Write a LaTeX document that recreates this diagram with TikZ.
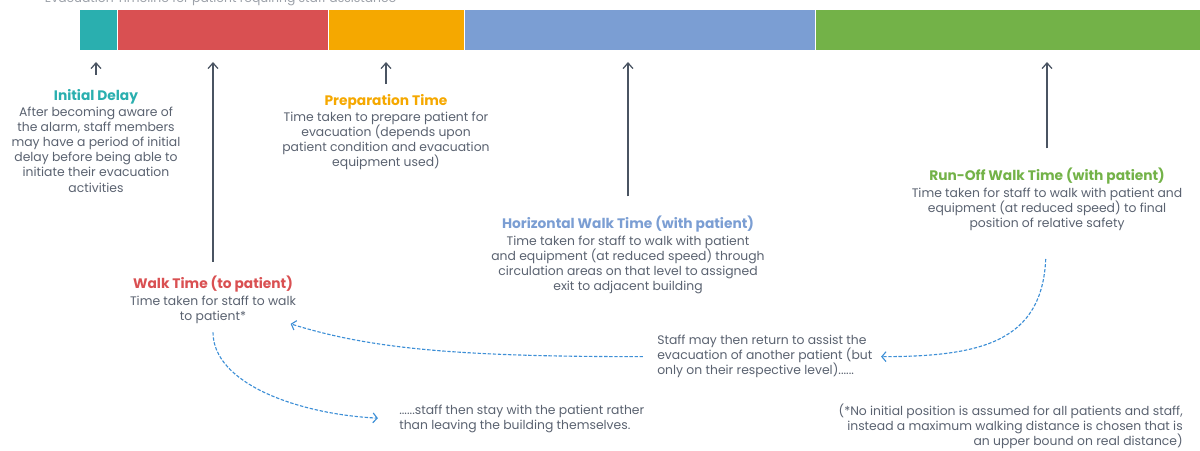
\documentclass[tikz,border=0pt]{standalone}
\usepackage{fontspec}
\setmainfont{Poppins}
\usetikzlibrary{arrows.meta}

\definecolor{delayc}{HTML}{2AAFAF}
\definecolor{walkc}{HTML}{D95052}
\definecolor{prepc}{HTML}{F5A800}
\definecolor{horizc}{HTML}{7B9ED3}
\definecolor{runc}{HTML}{73B248}
\definecolor{txtc}{HTML}{5A6270}
\definecolor{tickc}{HTML}{4A5462}
\definecolor{flowc}{HTML}{3D8FD6}

\newcommand{\hd}[2]{{\fontsize{9.8}{11}\selectfont\bfseries\color{#1}#2}}

\tikzset{
  note/.style={inner sep=0pt, align=center, text=txtc,
    font=\fontsize{8.8}{10.7}\selectfont},
  pointer/.style={-{Straight Barb[length=4pt,width=7pt]}, tickc, line width=0.9pt},
  flow/.style={-{Straight Barb[length=3pt,width=7pt]}, flowc,
    dash pattern=on 2.4pt off 1.2pt, line width=0.8pt}
}

\begin{document}
\begin{tikzpicture}[x=0.025cm, y=-0.025cm]
  \useasboundingbox (0,0) rectangle (1200,451);
  \clip (0,0) rectangle (1200,451);

  % heading above the bar (runs off the top)
  \node[anchor=base west, text=txtc!60, font=\fontsize{8.8}{12}\selectfont]
    (title) at (40,3) {Evacuation Timeline for patient requiring staff assistance};

  % timeline bar
  \fill[delayc] (80,10) rectangle (117,50);
  \fill[walkc] (118,10) rectangle (328,50);
  \fill[prepc] (329,10) rectangle (464,50);
  \fill[horizc] (465,10) rectangle (815,50);
  \fill[runc] (816,10) rectangle (1200,50);
  \coordinate (barbot) at (0,62);

  % stage notes
  \node[note, anchor=north] (delay) at (96,89)
    {\hd{delayc}{Initial Delay}\\[1pt]
     After becoming aware of\\ the alarm, staff members\\
     may have a period of initial\\ delay before being able to\\
     initiate their evacuation\\ activities};
  \node[note, anchor=north] (walk) at (213,276)
    {\hd{walkc}{Walk Time (to patient)}\\[1pt]
     Time taken for staff to walk\\ to patient*};
  \node[note, anchor=north] (prep) at (386,94)
    {\hd{prepc}{Preparation Time}\\[1pt]
     Time taken to prepare patient for\\ evacuation (depends upon\\
     patient condition and evacuation\\ equipment used)};
  \node[note, anchor=north] (horiz) at (628,216)
    {\hd{horizc}{Horizontal Walk Time (with patient)}\\[1pt]
     Time taken for staff to walk with patient\\
     and equipment (at reduced speed) through\\
     circulation areas on that level to assigned\\ exit to adjacent building};
  \node[note, anchor=north] (runoff) at (1047,168)
    {\hd{runc}{Run-Off Walk Time (with patient)}\\[1pt]
     Time taken for staff to walk with patient and\\
     equipment (at reduced speed) to final\\ position of relative safety};

  % side remarks
  \node[note, align=left, anchor=north west] (back) at (657,335)
    {Staff may then return to assist the\\
     evacuation of another patient (but\\
     only on their respective level)......};
  \node[note, align=left, anchor=north west] (stay) at (399,405)
    {......staff then stay with the patient rather\\
     than leaving the building themselves.};
  \node[note, align=right, anchor=north east] (foot) at (1183,404)
    {(*No initial position is assumed for all patients and staff,\\
     instead a maximum walking distance is chosen that is\\
     an upper bound on real distance)};

  % arrows up to the bar
  \draw[pointer, shorten <=10pt] (delay.north) -- (delay.north |- barbot);
  \draw[pointer, shorten <=10pt] (walk.north) -- (walk.north |- barbot);
  \draw[pointer, shorten <=7pt] (prep.north) -- (prep.north |- barbot);
  \draw[pointer, shorten <=14pt] (horiz.north) -- (horiz.north |- barbot);
  \draw[pointer, shorten <=14pt] (runoff.north) -- (runoff.north |- barbot);

  % dashed return loops
  \draw[flow, shorten <=20pt, shorten >=6pt] (runoff.south)
    .. controls +(-5,110) and +(110,0) .. (back.east);
  \draw[flow, shorten <=10pt] (back.west)
    .. controls +(-200,0) and +(80,25) .. ([xshift=-4pt]walk.south east);
  \draw[flow, shorten <=6pt, shorten >=15pt] (walk.south)
    .. controls +(0,60) and +(-100,-5) .. (stay.west);
\end{tikzpicture}
\end{document}
